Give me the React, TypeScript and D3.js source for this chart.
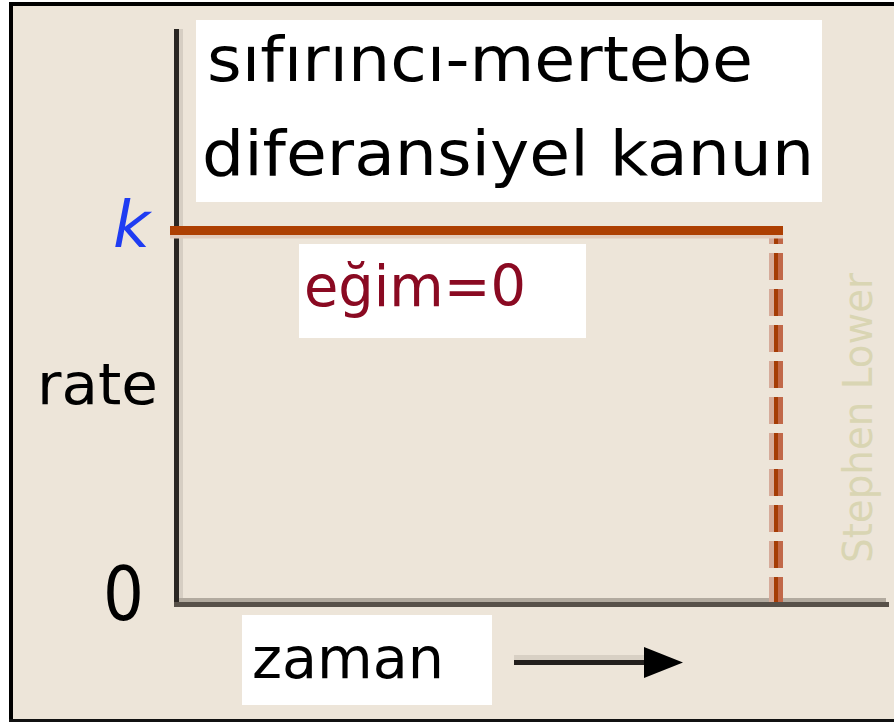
import React from "react";
import * as d3 from "d3";

// ---- data ----
const timePoints = [0, 1]; // start / end of the observed interval (relative time)
const rateValues = [1, 1]; // zero-order: the rate is the constant k
const yTickValues = [0, 1];
const yTickLabels = ["0", "k"];
const titleLines = ["sıfırıncı-mertebe", "diferansiyel kanun"];
const slopeLabel = "eğim=0";
const xLabel = "zaman";
const yLabel = "rate";
const credit = "Stephen Lower";

const W = 894;
const H = 722;
const FONT = "'DejaVu Sans', sans-serif";

export default function App() {
  const x = d3.scaleLinear().domain([0, 1]).range([176.5, 776]);
  const y = d3.scaleLinear().domain([0, 1]).range([604.5, 230.5]);

  const tEnd = timePoints[timePoints.length - 1];
  const kVal = rateValues[rateValues.length - 1];
  const hPath = d3.line()([
    [x(timePoints[0]) - 6.5, y(rateValues[0])],
    [x(tEnd) + 7, y(kVal)],
  ]) as string;
  const vPath = d3.line()([
    [x(tEnd), y(kVal) - 4.5],
    [x(tEnd), y(0) - 2.5],
  ]) as string;

  return (
    <svg
      width={W}
      height={H}
      style={{ position: "absolute", left: 0, top: 0, display: "block" }}
      fontFamily={FONT}
    >
      <rect x={0} y={0} width={W} height={H} fill="#ffffff" />
      <rect x={9} y={2} width={W - 9} height={720} fill="#ede5d9" />
      {/* frame */}
      <rect x={9} y={2} width={W - 9} height={4} fill="#000" />
      <rect x={9} y={2} width={4} height={720} fill="#000" />
      <rect x={9} y={719} width={W - 9} height={3} fill="#111" />

      {/* title box */}
      <rect x={196} y={20} width={626} height={182} fill="#fff" />
      <text x={207} y={81} fontSize={62} fill="#000" textLength={546} lengthAdjust="spacingAndGlyphs">
        {titleLines[0]}
      </text>
      <text x={202} y={175} fontSize={62} fill="#000" textLength={612} lengthAdjust="spacingAndGlyphs">
        {titleLines[1]}
      </text>

      {/* axes */}
      <line x1={181} x2={181} y1={29} y2={600} stroke="#d6cec3" strokeWidth={4} />
      <line x1={174} x2={886} y1={600} y2={600} stroke="#b2aa9f" strokeWidth={4} />
      <line x1={176.5} x2={176.5} y1={29} y2={607} stroke="#2a2623" strokeWidth={5} />
      <line x1={174} x2={889} y1={604.5} y2={604.5} stroke="#575049" strokeWidth={5} />

      {/* end-of-interval dashed drop line */}
      <path d={vPath} transform="translate(-4.5,0)" stroke="#d6ab9a" strokeWidth={5} strokeDasharray="27 9" strokeDashoffset={9} fill="none" />
      <path d={vPath} transform="translate(4.5,0)" stroke="#c16849" strokeWidth={5} strokeDasharray="27 9" strokeDashoffset={9} fill="none" />
      <path d={vPath} stroke="#a53c05" strokeWidth={4} strokeDasharray="27 9" strokeDashoffset={9} fill="none" />

      {/* rate = k line */}
      <path d={hPath} transform="translate(0,6)" stroke="#e2cabb" strokeWidth={4} fill="none" />
      <path d={hPath} stroke="#ad3f02" strokeWidth={9} fill="none" />

      {/* slope label */}
      <rect x={299} y={244} width={287} height={94} fill="#fff" />
      <text x={304} y={306} fontSize={57} fill="#8a0a22" textLength={222} lengthAdjust="spacingAndGlyphs">
        {slopeLabel}
      </text>

      {/* y tick labels */}
      <text x={103} y={y(yTickValues[0]) + 15.5} fontSize={74} fill="#000" textLength={41} lengthAdjust="spacingAndGlyphs">
        {yTickLabels[0]}
      </text>
      <text x={113} y={y(yTickValues[1]) + 16.5} fontSize={64} fontStyle="italic" fill="#1f3cf2">
        {yTickLabels[1]}
      </text>

      {/* y label */}
      <text x={37} y={404} fontSize={57} fill="#000" textLength={121} lengthAdjust="spacingAndGlyphs">
        {yLabel}
      </text>

      {/* x label + arrow */}
      <rect x={242} y={615} width={250} height={90} fill="#fff" />
      <text x={252} y={678} fontSize={57} fill="#000" textLength={192} lengthAdjust="spacingAndGlyphs">
        {xLabel}
      </text>
      <line x1={514} x2={645} y1={657.5} y2={657.5} stroke="#d8d0c4" strokeWidth={5} />
      <line x1={514} x2={646} y1={662.5} y2={662.5} stroke="#231f1d" strokeWidth={5} />
      <path d="M644,647L683,662.5L644,678Z" fill="#000" />

      {/* credit */}
      <text
        transform="translate(872,563) rotate(-90)"
        fontSize={40}
        fill="#d9d5b3"
        textLength={290}
        lengthAdjust="spacingAndGlyphs"
      >
        {credit}
      </text>
    </svg>
  );
}
